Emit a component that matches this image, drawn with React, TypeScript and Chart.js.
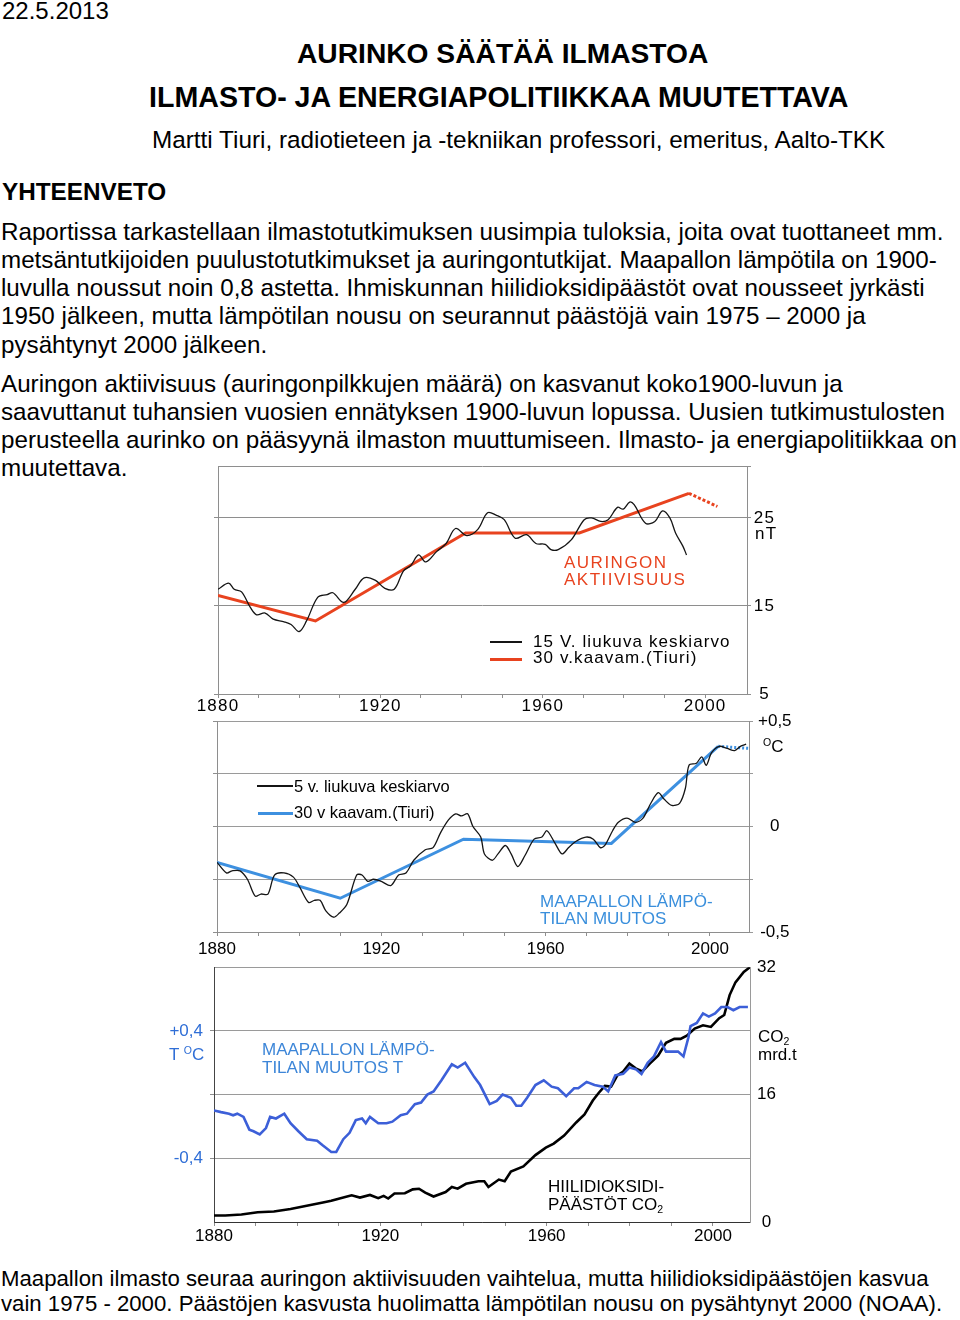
import React, { useEffect, useRef } from 'react';
import { Chart, registerables } from 'chart.js';

Chart.register(...registerables);

// ---------- text ----------
const DATE_TEXT = '22.5.2013';
const TITLE_1 = 'AURINKO SÄÄTÄÄ ILMASTOA';
const TITLE_2 = 'ILMASTO- JA ENERGIAPOLITIIKKAA MUUTETTAVA';
const AUTHOR = 'Martti Tiuri, radiotieteen ja -tekniikan professori, emeritus, Aalto-TKK';
const SUMMARY_HEAD = 'YHTEENVETO';
const PARA1_LINES = [
  'Raportissa tarkastellaan ilmastotutkimuksen uusimpia tuloksia, joita ovat tuottaneet mm.',
  'metsäntutkijoiden puulustotutkimukset ja auringontutkijat. Maapallon lämpötila on 1900-',
  'luvulla noussut noin 0,8 astetta. Ihmiskunnan hiilidioksidipäästöt ovat nousseet jyrkästi',
  '1950 jälkeen, mutta lämpötilan nousu on seurannut päästöjä vain 1975 – 2000 ja',
  'pysähtynyt 2000 jälkeen.',
];
const PARA2_LINES = [
  'Auringon aktiivisuus (auringonpilkkujen määrä) on kasvanut koko1900-luvun ja',
  'saavuttanut tuhansien vuosien ennätyksen 1900-luvun lopussa. Uusien tutkimustulosten',
  'perusteella aurinko on pääsyynä ilmaston muuttumiseen. Ilmasto- ja energiapolitiikkaa on',
  'muutettava.',
];
const CAPTION_LINES = [
  'Maapallon ilmasto seuraa auringon aktiivisuuden vaihtelua, mutta hiilidioksidipäästöjen kasvua',
  'vain 1975 - 2000. Päästöjen kasvusta huolimatta lämpötilan nousu on pysähtynyt 2000 (NOAA).',
];

// ---------- shared axis ----------
const X_MINOR_TICKS = [1880, 1890, 1900, 1910, 1920, 1930, 1940, 1950, 1960, 1970, 1980, 1990, 2000];
const X_LABEL_YEARS = [1880, 1920, 1960, 2000];

// ---------- chart 1: solar activity (nT) ----------
const SUN_LEGEND = ['15 V. liukuva keskiarvo', '30 v.kaavam.(Tiuri)'];
const SUN_TITLE = ['AURINGON', 'AKTIIVISUUS'];
const SUN_UNIT = 'nT';
const SUN_Y_TICKS = [5, 15, 25];
const SUN_Y_LABELS = ['5', '15', '25'];
const SUN_YEARS = [
  1880, 1882.6, 1884, 1885.8, 1888, 1889.5, 1891.6, 1893.6, 1896.3, 1898,
  1900, 1901.8, 1904.6, 1906.9, 1908.3, 1911, 1913.8, 1916, 1918.8, 1921.1,
  1923.4, 1925.7, 1927.5, 1929.4, 1931.2, 1933.9, 1936.2, 1938.5, 1941.3, 1944,
  1946.4, 1948.6, 1950.5, 1953.2, 1956, 1958.3, 1960.6, 1962, 1963.8, 1967,
  1970.2, 1972, 1974.3, 1976.1, 1978.4, 1979.8, 1981.4, 1982.5, 1985.3, 1987.6,
  1989.5, 1991.3, 1992.7, 1994.5, 1995.4,
];
const SUN_AVG15 = [
  16.9, 17.6, 16.9, 16.6, 14.8, 14.0, 14.2, 13.5, 13.2, 12.9,
  12.1, 13.3, 16.0, 16.3, 16.5, 15.4, 16.9, 18.2, 17.9, 17.0,
  16.9, 19.0, 19.6, 20.8, 20.0, 21.2, 22.1, 23.8, 23.0, 23.7,
  25.6, 25.3, 24.8, 22.7, 23.1, 22.1, 22.0, 21.4, 21.4, 22.5,
  24.8, 25.0, 24.6, 24.8, 26.2, 26.0, 26.8, 26.5, 24.4, 24.6,
  25.8, 25.0, 23.3, 21.8, 20.8,
];
const SUN_TREND_YEARS = [1880, 1904, 1941, 1969, 1996];
const SUN_TREND = [16.2, 13.3, 23.3, 23.3, 27.8];
const SUN_PROJ_YEARS = [1996, 2003];
const SUN_PROJ = [27.8, 26.3];

// ---------- chart 2: global temperature ----------
const TEMP_LEGEND = ['5 v. liukuva keskiarvo', '30 v kaavam.(Tiuri)'];
const TEMP_TITLE = ['MAAPALLON LÄMPÖ-', 'TILAN MUUTOS'];
const TEMP_Y_TICKS = [-0.5, -0.25, 0, 0.25, 0.5];
const TEMP_Y_LABELS = ['-0,5', '', '0', '', '+0,5'];
const TEMP5_YEARS = [
  1880, 1882.3, 1883.7, 1885.6, 1887.4, 1889.3, 1890.7, 1892.4, 1894, 1896.3,
  1898.6, 1900.2, 1902.3, 1903.7, 1905.1, 1906.5, 1908.4, 1909.8, 1911.6, 1914,
  1915.3, 1916.7, 1918.1, 1920, 1922.3, 1924.2, 1926, 1927.9, 1930.7, 1932.6,
  1934.4, 1936.3, 1938.1, 1939.5, 1941, 1942.3, 1944.2, 1945.1, 1947, 1948.4,
  1950.2, 1951.6, 1953.2, 1954.9, 1957.2, 1959.1, 1960.3, 1962.3, 1964, 1965.6,
  1967.4, 1969.8, 1971.6, 1973.3, 1974.4, 1976.3, 1977.7, 1979.8, 1981.9, 1983.7,
  1985.6, 1987.4, 1988.8, 1990.7, 1992.6, 1994, 1994.9, 1996.7, 1998, 1999.1,
  2000.4, 2002.3, 2004.2, 2006, 2007.4, 2008.8,
];
const TEMP5 = [
  -0.17, -0.22, -0.21, -0.21, -0.25, -0.33, -0.32, -0.32, -0.23, -0.22,
  -0.24, -0.29, -0.36, -0.35, -0.35, -0.40, -0.43, -0.41, -0.37, -0.23,
  -0.23, -0.26, -0.25, -0.26, -0.28, -0.23, -0.22, -0.16, -0.11, -0.10,
  -0.03, 0.03, 0.06, 0.05, 0.06, 0.0, -0.05, -0.13, -0.16, -0.13,
  -0.09, -0.13, -0.19, -0.14, -0.06, -0.05, -0.02, -0.08, -0.13, -0.10,
  -0.07, -0.05, -0.06, -0.10, -0.09, -0.02, 0.02, 0.04, 0.02, 0.04,
  0.11, 0.16, 0.13, 0.10, 0.11, 0.18, 0.29, 0.30, 0.33, 0.29,
  0.35, 0.38, 0.37, 0.36, 0.38, 0.39,
];
const TEMP_TREND_YEARS = [1880, 1910, 1940, 1976, 2002];
const TEMP_TREND = [-0.17, -0.34, -0.06, -0.08, 0.38];
const TEMP_PROJ_YEARS = [2002, 2009.5];
const TEMP_PROJ = [0.38, 0.37];

// ---------- chart 3: temperature vs CO2 ----------
const T3_TITLE = ['MAAPALLON LÄMPÖ-', 'TILAN MUUTOS  T'];
const CO2_TITLE = ['HIILIDIOKSIDI-', 'PÄÄSTÖT CO'];
const T3_Y_TICKS = [-0.4, 0, 0.4];
const T3_Y_LABELS = ['-0,4', '', '+0,4'];
const CO2_Y_TICKS = [0, 8, 16, 24, 32];
const CO2_Y_LABELS = ['0', '', '16', '', '32'];
const T3_YEARS = [
  1880, 1881.7, 1883.6, 1884.6, 1885.6, 1887.1, 1888.5, 1889.5, 1891, 1892.5,
  1893.5, 1894.9, 1896.9, 1898.4, 1900.3, 1902.3, 1904.8, 1906.2, 1908.2, 1909.4,
  1911.1, 1912.6, 1914.1, 1915.6, 1916.5, 1917.5, 1919.5, 1921.5, 1922.9, 1924.9,
  1926.4, 1928.3, 1929.8, 1931.3, 1932.8, 1934.7, 1937.2, 1938.6, 1940.4, 1942.6,
  1944, 1946.3, 1948, 1949.4, 1951.4, 1952.7, 1953.9, 1955.3, 1957.3, 1959.3,
  1961.2, 1962.7, 1964.7, 1966.6, 1967.6, 1969.6, 1971.5, 1973.5, 1974.8, 1976.5,
  1978.4, 1979.9, 1981.4, 1982.8, 1984.3, 1985.8, 1987.5, 1988.7, 1990.7, 1991.6,
  1992.9, 1994.1, 1994.6, 1996.1, 1997.6, 1999, 2000.5, 2002, 2003.5, 2004.9,
  2006.4, 2008.4,
];
const T3_TEMP = [
  -0.10, -0.11, -0.12, -0.13, -0.12, -0.14, -0.22, -0.23, -0.25, -0.21,
  -0.14, -0.15, -0.12, -0.18, -0.23, -0.28, -0.29, -0.32, -0.36, -0.36,
  -0.28, -0.24, -0.16, -0.15, -0.18, -0.14, -0.18, -0.18, -0.17, -0.13,
  -0.12, -0.06, -0.05, 0.00, 0.02, 0.09, 0.19, 0.17, 0.20, 0.11,
  0.06, -0.06, -0.04, 0.00, -0.02, -0.07, -0.07, -0.02, 0.06, 0.09,
  0.05, 0.04, -0.01, 0.04, 0.04, 0.08, 0.06, 0.05, 0.02, 0.12,
  0.13, 0.17, 0.16, 0.13, 0.20, 0.24, 0.33, 0.27, 0.27, 0.27,
  0.24, 0.36, 0.43, 0.45, 0.51, 0.49, 0.51, 0.55, 0.55, 0.53,
  0.55, 0.55,
];
const CO2_YEARS = [
  1880, 1882.7, 1886.6, 1890.5, 1894.4, 1898.4, 1902.3, 1906.2, 1908.2, 1910.2,
  1913.1, 1915.1, 1917.5, 1919.5, 1920.8, 1921.9, 1923.4, 1925.9, 1927.8, 1929.3,
  1930.8, 1932.8, 1935.7, 1937.2, 1938.6, 1940.6, 1943.6, 1945, 1946, 1948.5,
  1949.9, 1951.4, 1954.4, 1957.3, 1959.8, 1961.7, 1964.2, 1967.1, 1969.1, 1971.1,
  1972.5, 1974, 1975.5, 1977, 1978.4, 1979.9, 1981.4, 1983, 1984.8, 1986.8,
  1988.7, 1990.7, 1992.2, 1993.7, 1995.6, 1997.6, 1999.5, 2001.5, 2002.7, 2004,
  2005.4, 2007.4, 2008.9,
];
const CO2 = [
  0.82, 0.82, 0.94, 1.23, 1.31, 1.64, 2.05, 2.46, 2.66, 2.95,
  3.36, 3.07, 3.40, 2.99, 3.28, 2.95, 3.57, 3.61, 4.10, 4.18,
  3.69, 3.20, 3.77, 4.39, 4.18, 4.80, 5.12, 5.12, 4.39, 5.33,
  5.12, 6.35, 6.97, 8.40, 9.34, 9.84, 10.86, 12.5, 13.5, 15.25,
  16.2, 17.1, 17.0, 18.4, 18.9, 19.9, 19.3, 18.9, 19.9, 20.9,
  22.5, 23.0, 23.0, 23.4, 24.3, 24.7, 24.5, 25.6, 26.0, 28.5,
  30.1, 31.4, 32.0,
];

// ---------- styles ----------
const SANS = "'Liberation Sans', Arial, sans-serif";
const RED = '#e8431f';
const BLUE2 = '#3d90e0';
const BLUE3 = '#3c5fd8';
const BLUE_TXT2 = '#3a8fdc';
const BLUE_TXT3 = '#3d86d8';
const BLUE_TICK3 = '#2f6ed6';
const GRAY = '#8e8e8e';
const GRID = '#9a9a9a';

const pts = (xs: number[], ys: number[]) => xs.map((x, i) => ({ x, y: ys[i] }));

const xLabel = (v: any) => {
  const n = Number(v);
  return X_LABEL_YEARS.includes(n) ? String(n) : '';
};

function xScale(max: number, height: number, pad: number, border: string, font: any) {
  return {
    type: 'linear',
    min: 1880,
    max,
    afterBuildTicks: (s: any) => {
      s.ticks = X_MINOR_TICKS.filter((v) => v <= max).map((v) => ({ value: v }));
    },
    afterFit: (s: any) => {
      s.height = height;
    },
    grid: { drawOnChartArea: false, drawTicks: true, tickLength: 4, color: GRAY },
    border: { color: border, width: 1 },
    ticks: { callback: xLabel, font, color: '#000', padding: pad, maxRotation: 0, autoSkip: false },
  };
}

const spacingPlugin = (px: string) => ({
  id: 'letterSpacing',
  beforeDraw(chart: any) {
    try {
      chart.ctx.letterSpacing = px;
    } catch (e) {}
  },
});

function makeSun() {
  const font = { family: SANS, size: 17 };
  return {
    type: 'line',
    data: {
      datasets: [
        { label: SUN_LEGEND[0], data: pts(SUN_YEARS, SUN_AVG15), borderColor: '#151515', borderWidth: 1.3, pointRadius: 0, tension: 0.35, yAxisID: 'y' },
        { label: SUN_LEGEND[1], data: pts(SUN_TREND_YEARS, SUN_TREND), borderColor: RED, borderWidth: 3, pointRadius: 0, tension: 0, yAxisID: 'y' },
        { label: SUN_LEGEND[1], data: pts(SUN_PROJ_YEARS, SUN_PROJ), borderColor: RED, borderWidth: 3, borderDash: [3, 2], pointRadius: 0, tension: 0, yAxisID: 'y' },
      ],
    },
    plugins: [spacingPlugin('1.2px')],
    options: {
      animation: false,
      responsive: false,
      devicePixelRatio: 1,
      layout: { padding: { top: 26, left: 0, right: 0, bottom: 0 } },
      plugins: { legend: { display: false }, tooltip: { enabled: false } },
      scales: {
        x: xScale(2010.3, 36, -2, GRAY, font),
        yl: {
          position: 'left', min: 5, max: 30.9,
          afterBuildTicks: (s: any) => { s.ticks = SUN_Y_TICKS.map((v) => ({ value: v })); },
          afterFit: (s: any) => { s.width = 68; },
          ticks: { display: false },
          grid: { drawOnChartArea: false, tickLength: 4, color: GRAY },
          border: { color: GRAY },
        },
        y: {
          position: 'right', min: 5, max: 30.9,
          afterBuildTicks: (s: any) => { s.ticks = [...SUN_Y_TICKS, 30.9].map((v) => ({ value: v })); },
          afterFit: (s: any) => { s.width = 93; },
          ticks: { callback: (_v: any, i: number) => SUN_Y_LABELS[i] ?? '', font, color: '#000', padding: 4, crossAlign: 'center' },
          grid: { color: GRAY, tickLength: 4 },
          border: { color: GRAY },
        },
      },
    },
  };
}

function makeTemp() {
  const font = { family: SANS, size: 17 };
  return {
    type: 'line',
    data: {
      datasets: [
        { label: TEMP_LEGEND[0], data: pts(TEMP5_YEARS, TEMP5), borderColor: '#151515', borderWidth: 1.3, pointRadius: 0, tension: 0.3, yAxisID: 'y' },
        { label: TEMP_LEGEND[1], data: pts(TEMP_TREND_YEARS, TEMP_TREND), borderColor: BLUE2, borderWidth: 3, pointRadius: 0, tension: 0, yAxisID: 'y' },
        { label: TEMP_LEGEND[1], data: pts(TEMP_PROJ_YEARS, TEMP_PROJ), borderColor: BLUE2, borderWidth: 3, borderDash: [2, 2], pointRadius: 0, tension: 0, yAxisID: 'y' },
      ],
    },
    options: {
      animation: false,
      responsive: false,
      devicePixelRatio: 1,
      layout: { padding: { top: 21, left: 0, right: 0, bottom: 0 } },
      plugins: { legend: { display: false }, tooltip: { enabled: false } },
      scales: {
        x: xScale(2009.5, 30, 3, GRAY, font),
        yl: {
          position: 'left', min: -0.5, max: 0.5,
          afterBuildTicks: (s: any) => { s.ticks = TEMP_Y_TICKS.map((v) => ({ value: v })); },
          afterFit: (s: any) => { s.width = 67; },
          ticks: { display: false },
          grid: { drawOnChartArea: false, tickLength: 4, color: GRAY },
          border: { color: GRAY },
        },
        y: {
          position: 'right', min: -0.5, max: 0.5,
          afterBuildTicks: (s: any) => { s.ticks = TEMP_Y_TICKS.map((v) => ({ value: v })); },
          afterFit: (s: any) => { s.width = 91; },
          ticks: { callback: (_v: any, i: number) => TEMP_Y_LABELS[i] ?? '', font, color: '#000', padding: 5, crossAlign: 'center' },
          grid: { color: GRID, tickLength: 4 },
          border: { color: GRAY },
        },
      },
    },
  };
}

function makeCo2() {
  const font = { family: SANS, size: 17 };
  return {
    type: 'line',
    data: {
      datasets: [
        { label: 'T', data: pts(T3_YEARS, T3_TEMP), borderColor: BLUE3, borderWidth: 2.6, pointRadius: 0, tension: 0, yAxisID: 'yT' },
        { label: 'CO2', data: pts(CO2_YEARS, CO2), borderColor: '#000', borderWidth: 2.6, pointRadius: 0, tension: 0, yAxisID: 'yC' },
      ],
    },
    options: {
      animation: false,
      responsive: false,
      devicePixelRatio: 1,
      layout: { padding: { top: 12, left: 0, right: 0, bottom: 0 } },
      plugins: { legend: { display: false }, tooltip: { enabled: false } },
      scales: {
        x: xScale(2008.9, 28, 0, '#333', font),
        yT: {
          position: 'left', min: -0.8, max: 0.8,
          afterBuildTicks: (s: any) => { s.ticks = T3_Y_TICKS.map((v) => ({ value: v })); },
          afterFit: (s: any) => { s.width = 114; },
          ticks: { callback: (_v: any, i: number) => T3_Y_LABELS[i] ?? '', font, color: BLUE_TICK3, padding: 7 },
          grid: { drawOnChartArea: false, tickLength: 4, color: GRAY },
          border: { color: '#444' },
        },
        yC: {
          position: 'right', min: 0, max: 32,
          afterBuildTicks: (s: any) => { s.ticks = CO2_Y_TICKS.map((v) => ({ value: v })); },
          afterFit: (s: any) => { s.width = 90; },
          ticks: { callback: (_v: any, i: number) => CO2_Y_LABELS[i] ?? '', font, color: '#000', padding: 7, crossAlign: 'center' },
          grid: { color: GRID, drawTicks: false },
          border: { color: GRID },
        },
      },
    },
  };
}

function ChartCanvas({ x, y, w, h, make }: { x: number; y: number; w: number; h: number; make: () => any }) {
  const ref = useRef<HTMLCanvasElement>(null);
  useEffect(() => {
    const chart = new Chart(ref.current as HTMLCanvasElement, make());
    return () => chart.destroy();
  }, []);
  return (
    <canvas
      ref={ref}
      width={w}
      height={h}
      style={{ position: 'absolute', left: x, top: y, width: w, height: h, display: 'block' }}
    />
  );
}

function Txt({ x, cy, size, bold, color, ls, lh, children }: any) {
  const lineH = lh ?? Math.round(size * 1.2);
  return (
    <div
      style={{
        position: 'absolute',
        left: x,
        top: cy - lineH / 2,
        lineHeight: lineH + 'px',
        fontSize: size,
        fontFamily: SANS,
        fontWeight: bold ? 'bold' : 'normal',
        color: color ?? '#000',
        letterSpacing: ls ?? 0,
        whiteSpace: 'nowrap',
      }}
    >
      {children}
    </div>
  );
}

function Swatch({ x1, x2, y, t, color }: any) {
  return (
    <div style={{ position: 'absolute', left: x1, top: y - t / 2, width: x2 - x1, height: t, background: color }} />
  );
}

const Sup = ({ children }: any) => (
  <span style={{ fontSize: '0.62em', verticalAlign: '0.55em', lineHeight: 0 }}>{children}</span>
);
const Sub = ({ children }: any) => (
  <span style={{ fontSize: '0.62em', verticalAlign: '-0.3em', lineHeight: 0 }}>{children}</span>
);

export default function App() {
  return (
    <div style={{ position: 'absolute', left: 0, top: 0, width: 960, height: 1320, background: '#fff', overflow: 'hidden' }}>
      <Txt x={2} cy={10} size={24}>{DATE_TEXT}</Txt>
      <Txt x={297} cy={53} size={28.2} bold>{TITLE_1}</Txt>
      <Txt x={149} cy={97} size={28.6} bold>{TITLE_2}</Txt>
      <Txt x={152} cy={139} size={24.3}>{AUTHOR}</Txt>
      <Txt x={2} cy={191} size={24.3} bold>{SUMMARY_HEAD}</Txt>
      {PARA1_LINES.map((t, i) => (
        <Txt key={'p1' + i} x={1} cy={231 + i * 28.3} size={24.2}>{t}</Txt>
      ))}
      {PARA2_LINES.map((t, i) => (
        <Txt key={'p2' + i} x={1} cy={383 + i * 28.2} size={24.2}>{t}</Txt>
      ))}

      <ChartCanvas x={150} y={440} w={690} h={290} make={makeSun} />
      <ChartCanvas x={150} y={700} w={690} h={262} make={makeTemp} />
      <ChartCanvas x={100} y={950} w={740} h={300} make={makeCo2} />

      {/* chart 1 annotations */}
      <Txt x={564} cy={563} size={17} color={RED} ls="1.5px">{SUN_TITLE[0]}</Txt>
      <Txt x={564} cy={580} size={17} color={RED} ls="1.5px">{SUN_TITLE[1]}</Txt>
      <Swatch x1={490} x2={522} y={642} t={1.5} color="#151515" />
      <Txt x={533} cy={642} size={17} ls="1.1px">{SUN_LEGEND[0]}</Txt>
      <Swatch x1={490} x2={522} y={659} t={3} color={RED} />
      <Txt x={533} cy={658} size={17} ls="1.1px">{SUN_LEGEND[1]}</Txt>
      <Txt x={755} cy={534} size={17} ls="1.2px">{SUN_UNIT}</Txt>

      {/* chart 2 annotations */}
      <Swatch x1={257} x2={293} y={786} t={1.5} color="#151515" />
      <Txt x={294} cy={786} size={16.5}>{TEMP_LEGEND[0]}</Txt>
      <Swatch x1={258} x2={293} y={813} t={3} color={BLUE2} />
      <Txt x={294} cy={812} size={16.5}>{TEMP_LEGEND[1]}</Txt>
      <Txt x={540} cy={902} size={17} color={BLUE_TXT2}>{TEMP_TITLE[0]}</Txt>
      <Txt x={540} cy={919} size={17} color={BLUE_TXT2}>{TEMP_TITLE[1]}</Txt>
      <Txt x={763} cy={747} size={17}><Sup>O</Sup>C</Txt>

      {/* chart 3 annotations */}
      <Txt x={169} cy={1055} size={17} color={BLUE_TICK3}>T <Sup>O</Sup>C</Txt>
      <Txt x={262} cy={1050} size={17} color={BLUE_TXT3}>{T3_TITLE[0]}</Txt>
      <Txt x={262} cy={1068} size={17} color={BLUE_TXT3}>{T3_TITLE[1]}</Txt>
      <Txt x={548} cy={1187} size={17}>{CO2_TITLE[0]}</Txt>
      <Txt x={548} cy={1205} size={17}>{CO2_TITLE[1]}<Sub>2</Sub></Txt>
      <Txt x={758} cy={1037} size={17}>CO<Sub>2</Sub></Txt>
      <Txt x={758} cy={1055} size={17}>mrd.t</Txt>

      {CAPTION_LINES.map((t, i) => (
        <Txt key={'c' + i} x={1} cy={1278 + i * 25.5} size={22.2}>{t}</Txt>
      ))}
    </div>
  );
}
